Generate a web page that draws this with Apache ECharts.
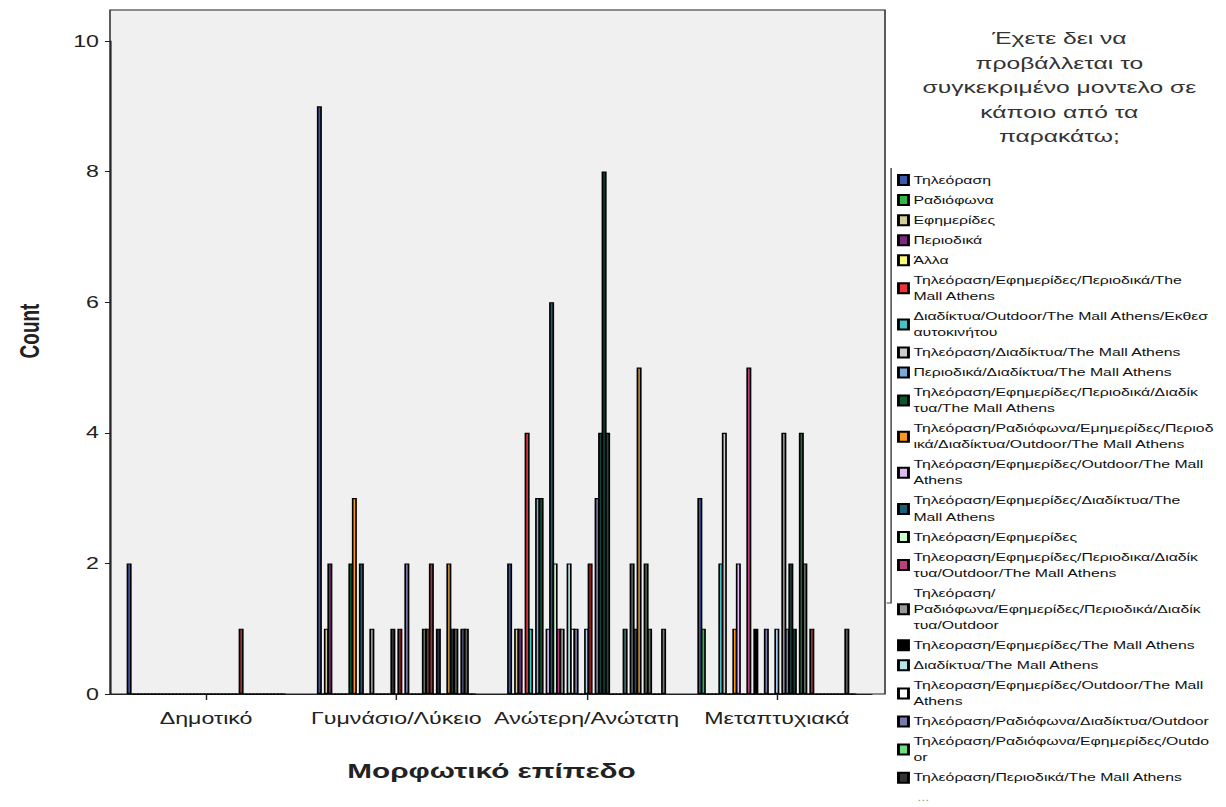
<!DOCTYPE html>
<html>
<head>
<meta charset="utf-8">
<script src="https://cdn.jsdelivr.net/npm/echarts@6/dist/echarts.min.js"></script>
<style>
  html, body { margin: 0; padding: 0; background: #ffffff; overflow: hidden; }
  /* The chart is laid out in a narrower box and widened horizontally,
     giving the broad, stretched lettering of the exported figure. */
  #chart {
    width: 846px;
    height: 807px;
    transform: scaleX(1.44917);
    transform-origin: 0 0;
  }
</style>
</head>
<body>
<div id="chart"></div>
<script>
// Education levels on the x axis
const categories = ['Δημοτικό', 'Γυμνάσιο/Λύκειο', 'Ανώτερη/Ανώτατη', 'Μεταπτυχιακά'];

// Answers to "where have you seen this model advertised" (clustered series).
// Only the first 22 are listed in the legend; the rest are further combinations.
const legendAnswers = [
  'Τηλεόραση',
  'Ραδιόφωνα',
  'Εφημερίδες',
  'Περιοδικά',
  'Άλλα',
  'Τηλεόραση/Εφημερίδες/Περιοδικά/The\nMall Athens',
  'Διαδίκτυα/Outdoor/The Mall Athens/Εκθεσ\nαυτοκινήτου',
  'Τηλεόραση/Διαδίκτυα/The Mall Athens',
  'Περιοδικά/Διαδίκτυα/The Mall Athens',
  'Τηλεόραση/Εφημερίδες/Περιοδικά/Διαδίκ\nτυα/The Mall Athens',
  'Τηλεόραση/Ραδιόφωνα/Εμημερίδες/Περιοδ\nικά/Διαδίκτυα/Outdoor/The Mall Athens',
  'Τηλεόραση/Εφημερίδες/Outdoor/The Mall\nAthens',
  'Τηλεόραση/Εφημερίδες/Διαδίκτυα/The\nMall Athens',
  'Τηλεόραση/Εφημερίδες',
  'Τηλεοραση/Εφημερίδες/Περιοδικα/Διαδίκ\nτυα/Outdoor/The Mall Athens',
  'Τηλεόραση/\nΡαδιόφωνα/Εφημερίδες/Περιοδικά/Διαδίκ\nτυα/Outdoor',
  'Τηλεοραση/Εφημερίδες/The Mall Athens',
  'Διαδίκτυα/The Mall Athens',
  'Τηλεοραση/Εφημερίδες/Outdoor/The Mall\nAthens',
  'Τηλεόραση/Ραδιόφωνα/Διαδίκτυα/Outdoor',
  'Τηλεόραση/Ραδιόφωνα/Εφημερίδες/Outdo\nor',
  'Τηλεόραση/Περιοδικά/The Mall Athens'
];
const otherAnswerCount = 23;
const answers = legendAnswers.concat(
  Array.from({ length: otherAnswerCount }, (_, i) => 'Συνδυασμός ' + (legendAnswers.length + i + 1))
);

const answerColors = [
  '#3e58ac', '#2eb848', '#d3ce97', '#7c287d', '#fbf873', '#ef3338', '#48c2c5', '#cccccc',
  '#7aaad5', '#0a562c', '#f8981d', '#ddbaf1', '#1a5f76', '#ccffcc', '#bb3f7f', '#999999',
  '#000000', '#b6e7e8', '#ffffff', '#797aa7', '#70dc84', '#333333',
  '#acd0ee', '#a21619', '#8e8e8e', '#7a78a8', '#1e3b3b', '#103c30', '#254440', '#2f5e3a',
  '#5e6e5e', '#7a3a2a', '#9a3535', '#3f6f6a', '#2b2b44', '#55606a', '#3a4a3a', '#c08a3a',
  '#2a2a2a', '#4a5a4a', '#6a6a6a', '#4a4a6a', '#5a5a5a', '#3a3a3a', '#777777'
];

// Counts per answer (same order as `answers`), one array per education level
const countsPrimary = [
  2, 0, 0, 0, 0,  0, 0, 0, 0, 0,  0, 0, 0, 0, 0,  0, 0, 0, 0, 0,  0, 0, 0, 0, 0,
  0, 0, 0, 0, 0,  0, 0, 1, 0, 0,  0, 0, 0, 0, 0,  0, 0, 0, 0, 0
];
const countsSecondary = [
  9, 0, 1, 2, 0,  0, 0, 0, 0, 2,  3, 0, 2, 0, 0,  1, 0, 0, 0, 0,  0, 1, 0, 1, 0,
  2, 0, 0, 0, 0,  1, 1, 2, 0, 1,  0, 0, 2, 1, 1,  0, 1, 1, 0, 0
];
const countsTertiary = [
  2, 0, 1, 1, 0,  4, 1, 0, 3, 3,  0, 1, 6, 2, 1,  1, 0, 2, 1, 1,  0, 0, 1, 2, 0,
  3, 4, 8, 4, 0,  0, 0, 0, 1, 0,  2, 1, 5, 0, 2,  1, 0, 0, 0, 1
];
const countsPostgrad = [
  3, 1, 0, 0, 0,  0, 2, 4, 0, 0,  1, 2, 0, 0, 5,  0, 1, 0, 0, 1,  0, 0, 1, 0, 4,
  1, 2, 1, 0, 4,  2, 0, 1, 0, 0,  0, 0, 0, 0, 0,  0, 0, 1, 0, 0
];

const yMin = 0, yMax = 10, yStep = 2;

const FONT = '"Liberation Sans", Arial, Helvetica, sans-serif';
const INK = '#222222';
const countsByLevel = [countsPrimary, countsSecondary, countsTertiary, countsPostgrad];

const barSeries = answers.map((name, i) => ({
  name: name,
  type: 'bar',
  xAxisIndex: 1,
  yAxisIndex: 1,
  data: countsByLevel.map(c => c[i]),
  barWidth: 3.45,
  barGap: '-30%',
  itemStyle: { color: answerColors[i], borderColor: '#000000', borderWidth: 1.15 },
  emphasis: { disabled: true }
}));

const chart = echarts.init(document.getElementById('chart'), null, { renderer: 'svg' });

chart.setOption({
  animation: false,
  backgroundColor: '#ffffff',
  textStyle: { fontFamily: FONT },
  title: {
    text: 'Έχετε δει να\nπροβάλλεται το\nσυγκεκριμένο μοντελο σε\nκάποιο από τα\nπαρακάτω;',
    left: 726,
    top: 21,
    textAlign: 'center',
    textStyle: {
      fontFamily: FONT, fontSize: 17, fontWeight: 'normal', color: '#333333', lineHeight: 24.5
    }
  },
  legend: {
    data: legendAnswers,
    orient: 'vertical',
    left: 619,
    top: 172,
    padding: 0,
    itemWidth: 6.9,
    itemHeight: 10,
    itemGap: 4,
    icon: 'rect',
    selectedMode: false,
    textStyle: { fontFamily: FONT, fontSize: 10.9, color: '#111111', lineHeight: 16.05, padding: [0, 0, 0, -1.6] }
  },
  grid: [
    { left: 75.9, top: 10, width: 534.8, height: 684, show: true,
      backgroundColor: '#f0f0f0', borderColor: INK, borderWidth: 1 },
    { left: 76.6, top: 41, width: 525.1, height: 653 }
  ],
  xAxis: [
    { gridIndex: 0, type: 'value', show: false },
    {
      gridIndex: 1,
      type: 'category',
      data: categories,
      axisLine: { show: true, lineStyle: { color: INK, width: 1 } },
      axisTick: { show: true, alignWithLabel: true, interval: 0, length: 6, lineStyle: { color: INK } },
      axisLabel: { fontFamily: FONT, fontSize: 16, color: INK, margin: 16, interval: 0 },
      name: 'Μορφωτικό επίπεδο',
      nameLocation: 'middle',
      nameGap: 66,
      nameTextStyle: { fontFamily: FONT, fontSize: 20.5, fontWeight: 'bold', color: INK }
    }
  ],
  yAxis: [
    { gridIndex: 0, type: 'value', show: false },
    {
      gridIndex: 1,
      type: 'value',
      min: yMin,
      max: yMax,
      interval: yStep,
      axisLine: { show: true, lineStyle: { color: INK, width: 1 } },
      axisTick: { show: true, length: 4.2, lineStyle: { color: INK } },
      splitLine: { show: false },
      axisLabel: { fontFamily: FONT, fontSize: 16, color: INK, margin: 8.3 }
    }
  ],
  graphic: [
    {
      type: 'text',
      x: 20.7, y: 331,
      rotation: Math.PI / 2,
      style: {
        text: 'Count', fontFamily: FONT, fontSize: 19, fontWeight: 'bold', fill: INK,
        align: 'center', verticalAlign: 'middle'
      }
    },
    {
      // bracket running down the left side of the legend
      type: 'polyline',
      shape: { points: [[614.9, 168], [614.9, 603], [611.8, 603]] },
      style: { stroke: '#444444', lineWidth: 1, fill: null }
    },
    {
      type: 'text',
      x: 633, y: 793,
      style: { text: '...', fontFamily: FONT, fontSize: 10, fill: '#999999' }
    }
  ],
  series: barSeries
});
</script>
</body>
</html>
